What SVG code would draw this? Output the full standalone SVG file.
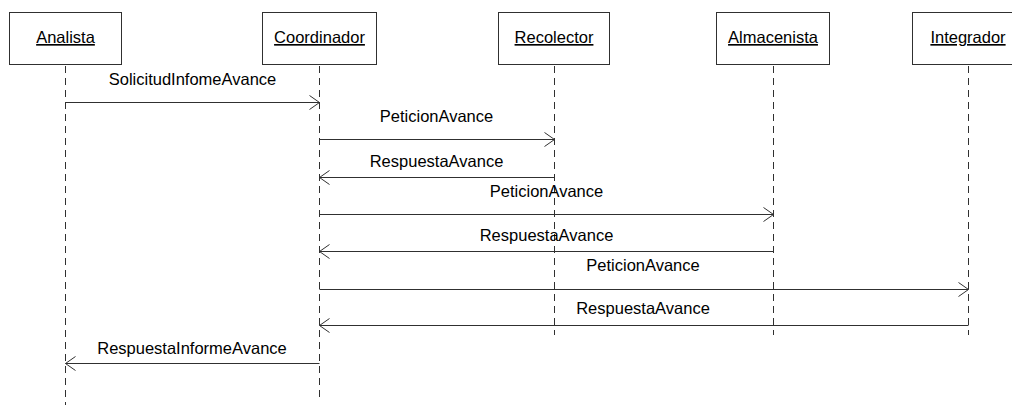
<svg xmlns="http://www.w3.org/2000/svg" width="1012" height="405" viewBox="0 0 1012 405">
  <style>
    .box { fill: #ffffff; stroke: #303030; stroke-width: 1; }
    .name { font-family: "Liberation Sans", Arial, sans-serif; font-size: 16.5px; fill: #000; text-anchor: middle; text-decoration: underline; }
    .life { stroke: #303030; stroke-width: 1; stroke-dasharray: 7 5; fill: none; }
    .msg { stroke: #303030; stroke-width: 1; fill: none; }
    .head { stroke: #303030; stroke-width: 1; fill: none; }
    .lbl { font-family: "Liberation Sans", Arial, sans-serif; font-size: 16.5px; fill: #000; text-anchor: middle; }
  </style>

  <!-- participants -->
  <g id="analista">
    <rect class="box" x="9.5" y="12.5" width="112" height="52"/>
    <text class="name" x="65.5" y="43">Analista</text>
    <line class="life" x1="65.5" y1="66" x2="65.5" y2="405"/>
  </g>
  <g id="coordinador">
    <rect class="box" x="262.5" y="12.5" width="114" height="52"/>
    <text class="name" x="319.5" y="43">Coordinador</text>
    <line class="life" x1="319.5" y1="66" x2="319.5" y2="398"/>
  </g>
  <g id="recolector">
    <rect class="box" x="498.5" y="12.5" width="111" height="52"/>
    <text class="name" x="554" y="43">Recolector</text>
    <line class="life" x1="554.5" y1="66" x2="554.5" y2="335"/>
  </g>
  <g id="almacenista">
    <rect class="box" x="716.5" y="12.5" width="113" height="52"/>
    <text class="name" x="773" y="43">Almacenista</text>
    <line class="life" x1="773.5" y1="66" x2="773.5" y2="335"/>
  </g>
  <g id="integrador">
    <rect class="box" x="912.5" y="12.5" width="112" height="52"/>
    <text class="name" x="968" y="43">Integrador</text>
    <line class="life" x1="968.5" y1="66" x2="968.5" y2="335"/>
  </g>

  <!-- messages -->
  <g id="connectors">
    <!-- Analista -> Coordinador -->
    <line class="msg" x1="65.5" y1="102.5" x2="319.5" y2="102.5"/>
    <polyline class="head" points="309.5,95.5 319.5,102.5 309.5,109.5"/>
    <text class="lbl" x="192.5" y="85">SolicitudInfomeAvance</text>

    <!-- Coordinador -> Recolector -->
    <line class="msg" x1="319.5" y1="139.5" x2="554.5" y2="139.5"/>
    <polyline class="head" points="544.5,132.5 554.5,139.5 544.5,146.5"/>
    <text class="lbl" x="436.5" y="122">PeticionAvance</text>

    <!-- Recolector -> Coordinador -->
    <line class="msg" x1="554.5" y1="177.5" x2="319.5" y2="177.5"/>
    <polyline class="head" points="329.5,170.5 319.5,177.5 329.5,184.5"/>
    <text class="lbl" x="436.5" y="166.5">RespuestaAvance</text>

    <!-- Coordinador -> Almacenista -->
    <line class="msg" x1="319.5" y1="214.5" x2="773.5" y2="214.5"/>
    <polyline class="head" points="763.5,207.5 773.5,214.5 763.5,221.5"/>
    <text class="lbl" x="546.5" y="197">PeticionAvance</text>

    <!-- Almacenista -> Coordinador -->
    <line class="msg" x1="773.5" y1="251.5" x2="319.5" y2="251.5"/>
    <polyline class="head" points="329.5,244.5 319.5,251.5 329.5,258.5"/>
    <text class="lbl" x="546.5" y="241">RespuestaAvance</text>

    <!-- Coordinador -> Integrador -->
    <line class="msg" x1="319.5" y1="289.5" x2="968.5" y2="289.5"/>
    <polyline class="head" points="958.5,282.5 968.5,289.5 958.5,296.5"/>
    <text class="lbl" x="643" y="271">PeticionAvance</text>

    <!-- Integrador -> Coordinador -->
    <line class="msg" x1="968.5" y1="325.5" x2="319.5" y2="325.5"/>
    <polyline class="head" points="329.5,318.5 319.5,325.5 329.5,332.5"/>
    <text class="lbl" x="643" y="314">RespuestaAvance</text>

    <!-- Coordinador -> Analista -->
    <line class="msg" x1="319.5" y1="363.5" x2="65.5" y2="363.5"/>
    <polyline class="head" points="75.5,356.5 65.5,363.5 75.5,370.5"/>
    <text class="lbl" x="192" y="354">RespuestaInformeAvance</text>
  </g>
</svg>
